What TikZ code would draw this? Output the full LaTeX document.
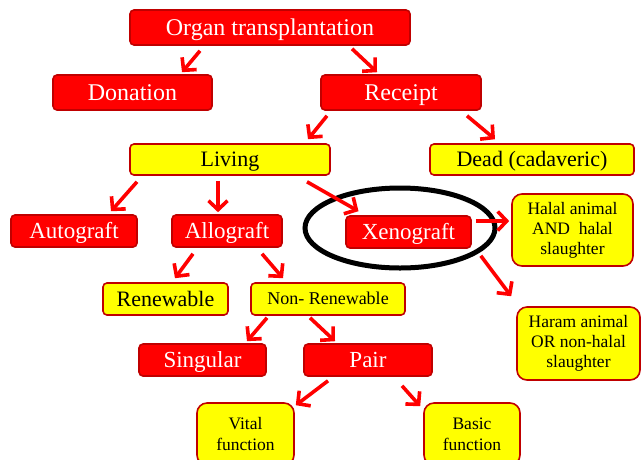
\documentclass[tikz,border=0pt]{standalone}
\usepackage{fontspec}
\setmainfont{Liberation Serif}
\usetikzlibrary{arrows.meta,shapes.geometric,calc}
\definecolor{boxred}{HTML}{FF0000}
\definecolor{rim}{HTML}{C00000}
\definecolor{boxyellow}{HTML}{FFFF00}
\begin{document}
\begin{tikzpicture}[x=1pt,y=-1pt,
  basebox/.style={draw=rim, line width=1.6pt, rounded corners=4pt, inner sep=0pt},
  % single-line labels: box height equals cap height so capitals sit centred
  caps/.style={text height=#1, text depth=0pt},
  redbox/.style={basebox, caps=15.2pt, fill=boxred, text=white, font=\fontsize{23}{25}\selectfont},
  bigred/.style={redbox, caps=15.9pt, font=\fontsize{24}{26}\selectfont},
  yelbox/.style={basebox, caps=14.6pt, fill=boxyellow, text=black, font=\fontsize{22}{24}\selectfont},
  notebox/.style={basebox, align=center, fill=boxyellow, text=black, rounded corners=10pt, font=\fontsize{17.5}{20}\selectfont},
  arr/.style={draw=red, line width=3.6pt, -{Straight Barb[length=9pt, width=19pt]}},
  ring/.style={ellipse, draw=black, line width=5pt, inner sep=0pt}
]
\useasboundingbox (0,0) rectangle (644,459);

% boxes
\node[bigred, minimum width=280, minimum height=35] (org) at (270,27.5) {Organ transplantation};
\node[bigred, minimum width=159, minimum height=35] (don) at (132.5,92.5) {Donation};
\node[bigred, minimum width=160, minimum height=35] (rec) at (401,92.5) {Receipt};
\node[yelbox, minimum width=200, minimum height=31] (liv) at (230,159.5) {Living};
\node[yelbox, minimum width=204, minimum height=31] (dead) at (532,159.5) {Dead (cadaveric)};
\node[redbox, minimum width=126, minimum height=32] (auto) at (74,231) {Autograft};
\node[redbox, minimum width=110, minimum height=32] (allo) at (227,231) {Allograft};
\node[redbox, minimum width=125, minimum height=32] (xeno) at (408.5,232) {Xenograft};
\node[ring, minimum width=190, minimum height=80] (halo) at (400,228) {};
\node[notebox, minimum width=121, minimum height=72] (halal) at (572.5,230) {Halal animal\\AND\ \ halal\\slaughter};
\node[notebox, minimum width=123, minimum height=73] (haram) at (578.5,343.5) {Haram animal\\OR non-halal\\slaughter};
\node[yelbox, minimum width=125, minimum height=32] (ren) at (165.5,299) {Renewable};
\node[yelbox, caps=11.9pt, minimum width=154, minimum height=32, font=\fontsize{18}{20}\selectfont] (nren) at (328,299) {Non- Renewable};
\node[redbox, minimum width=127, minimum height=32] (sing) at (202.5,360) {Singular};
\node[redbox, minimum width=128, minimum height=32] (pair) at (368,360) {Pair};
\node[notebox, minimum width=97, minimum height=62, font=\fontsize{17.5}{21}\selectfont] (vital) at (245.5,434) {Vital\\function};
\node[notebox, minimum width=96, minimum height=62, font=\fontsize{17.5}{21}\selectfont] (basic) at (472,434) {Basic\\function};

% connectors
\draw[arr] ($(org.south)+(-70,5)$) -- ($(don.north)+(49.5,-2)$);
\draw[arr] ($(org.south)+(82,3)$) -- ($(rec.north)+(-24,-2)$);
\draw[arr] ($(rec.south)+(-74,5)$) -- ($(liv.north)+(78,-4)$);
\draw[arr] ($(rec.south)+(66,5)$) -- ($(dead.north)+(-37,-4)$);
\draw[arr] ($(liv.south)+(-93,6)$) -- ($(auto.north)+(37,-3)$);
\draw[arr] ($(liv.south)+(-12,5)$) -- ($(allo.north)+(-9,-2)$);
\draw[arr] ($(liv.south)+(77,6)$) -- ($(xeno.north)+(-50,-4)$);
\draw[arr] ($(xeno.east)+(4,-11)$) -- ($(halal.west)+(-2,-9)$);
\draw[arr] ($(xeno.south east)+(9,7)$) -- ($(haram.north west)+(-5,-10)$);
\draw[arr] ($(allo.south)+(-34,6)$) -- ($(ren.north)+(9.5,-4)$);
\draw[arr] ($(allo.south)+(35,6)$) -- ($(nren.north)+(-45,-4)$);
\draw[arr] ($(nren.south)+(-61,2)$) -- ($(sing.north)+(44.5,-2)$);
\draw[arr] ($(nren.south)+(-18,2)$) -- ($(pair.north)+(-33,-2)$);
\draw[arr] ($(pair.south)+(-40,4)$) -- ($(vital.north east)+(1,3)$);
\draw[arr] ($(pair.south)+(34,9)$) -- ($(basic.north west)+(-3,4)$);
\end{tikzpicture}
\end{document}
